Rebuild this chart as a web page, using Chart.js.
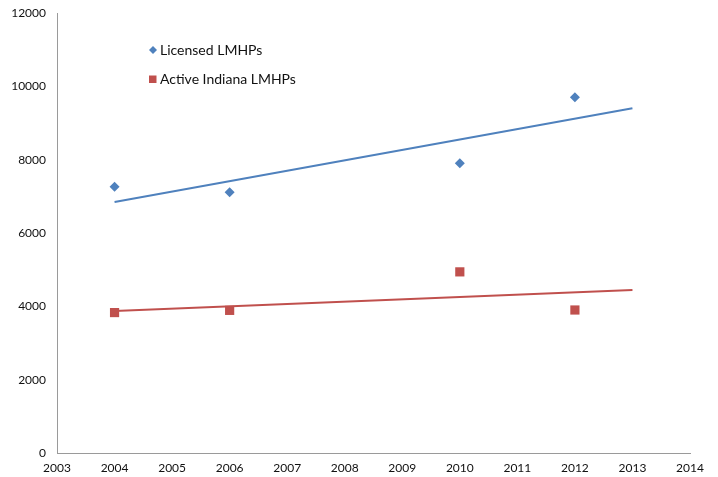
<!DOCTYPE html>
<html>
<head>
<meta charset="utf-8">
<script src="https://cdn.jsdelivr.net/npm/chart.js@4"></script>
<style>
  html, body { margin: 0; padding: 0; background: #fff; }
  #wrap { position: relative; width: 718px; height: 477px; }
</style>
</head>
<body>
<div id="wrap"><canvas id="lmhpChart" width="718" height="477"></canvas></div>
<script>
// values
const years = [2004, 2006, 2010, 2012];
const licensed = [7260, 7110, 7900, 9700];
const activeIndiana = [3830, 3890, 4940, 3900];

// trendline end points
const trendYears = [2004, 2013];
const licensedTrend = [6845, 9400];
const activeTrend = [3875, 4445];

const xTicks = [2003, 2004, 2005, 2006, 2007, 2008, 2009, 2010, 2011, 2012, 2013, 2014];
const yTicks = [0, 2000, 4000, 6000, 8000, 10000, 12000];

const BLUE = '#4F81BD';
const RED = '#C0504D';
const FONT = 'Lato, "Open Sans", sans-serif';

function toPoints(xs, ys) {
    return xs.map((x, i) => ({ x: x, y: ys[i] }));
}

// little legend drawn inside the plot, top-left, like the original
const insideLegend = {
    id: 'insideLegend',
    afterDraw(chart) {
        const ctx = chart.ctx;
        const items = [
            { label: 'Licensed LMHPs', color: BLUE, style: 'rectRot', y: 50 },
            { label: 'Active Indiana LMHPs', color: RED, style: 'rect', y: 79 }
        ];
        ctx.save();
        ctx.font = '14px ' + FONT;
        ctx.textBaseline = 'middle';
        items.forEach(item => {
            ctx.fillStyle = item.color;
            ctx.beginPath();
            if (item.style === 'rectRot') {
                ctx.moveTo(153, item.y - 4);
                ctx.lineTo(157, item.y);
                ctx.lineTo(153, item.y + 4);
                ctx.lineTo(149, item.y);
                ctx.closePath();
            } else {
                ctx.rect(149, item.y - 3.5, 7.5, 7.5);
            }
            ctx.fill();
            ctx.fillStyle = '#111';
            ctx.fillText(item.label, 160, item.y);
        });
        ctx.restore();
    }
};

const ctx = document.getElementById('lmhpChart').getContext('2d');
new Chart(ctx, {
    type: 'scatter',
    data: {
        datasets: [
            {
                label: 'Licensed LMHPs',
                data: toPoints(years, licensed),
                pointStyle: 'rectRot',
                pointRadius: 5,
                backgroundColor: BLUE,
                borderColor: BLUE,
                borderWidth: 0,
                order: 1
            },
            {
                label: 'Active Indiana LMHPs',
                data: toPoints(years, activeIndiana),
                pointStyle: 'rect',
                pointRadius: 6.5,
                backgroundColor: RED,
                borderColor: RED,
                borderWidth: 0,
                order: 1
            },
            {
                label: 'Licensed trend',
                data: toPoints(trendYears, licensedTrend),
                showLine: true,
                pointRadius: 0,
                borderColor: BLUE,
                borderWidth: 2,
                order: 2
            },
            {
                label: 'Active trend',
                data: toPoints(trendYears, activeTrend),
                showLine: true,
                pointRadius: 0,
                borderColor: RED,
                borderWidth: 2,
                order: 2
            }
        ]
    },
    options: {
        responsive: false,
        animation: false,
        layout: { padding: { top: 13, right: 28, left: 0, bottom: 0 } },
        plugins: {
            legend: { display: false },
            tooltip: { enabled: false }
        },
        scales: {
            x: {
                type: 'linear',
                min: 2003,
                max: 2014,
                afterBuildTicks: scale => { scale.ticks = xTicks.map(v => ({ value: v })); },
                afterFit: scale => {
                    scale.height = 24;
                    scale.paddingLeft = 0;
                    scale.paddingRight = 0;
                },
                grid: { display: false, drawTicks: false },
                border: { display: true, color: '#9a9a9a', width: 1 },
                ticks: {
                    padding: 8,
                    color: '#111',
                    font: { family: FONT, size: 12 },
                    callback: v => String(v)
                }
            },
            y: {
                min: 0,
                max: 12000,
                afterBuildTicks: scale => { scale.ticks = yTicks.map(v => ({ value: v })); },
                afterFit: scale => {
                    scale.width = 57;
                    scale.paddingTop = 0;
                    scale.paddingBottom = 0;
                },
                grid: { display: false, drawTicks: false },
                border: { display: true, color: '#9a9a9a', width: 1 },
                ticks: {
                    padding: 11,
                    color: '#111',
                    font: { family: FONT, size: 12 },
                    callback: v => String(v)
                }
            }
        }
    },
    plugins: [insideLegend]
});
</script>
</body>
</html>
